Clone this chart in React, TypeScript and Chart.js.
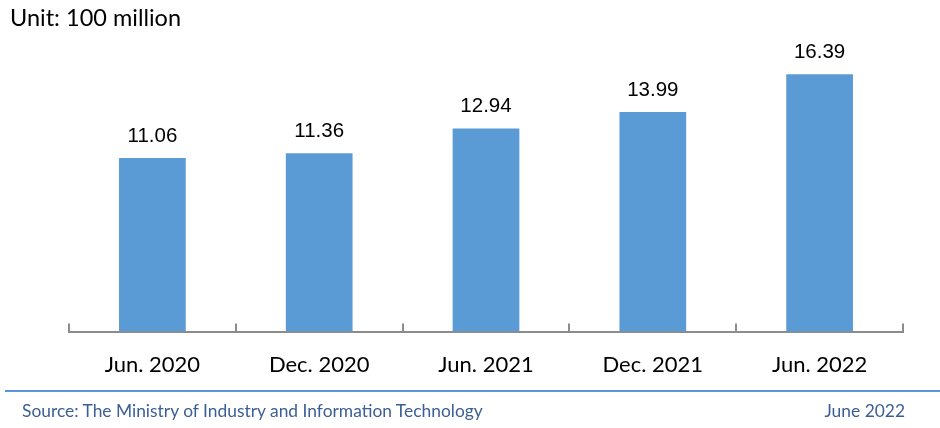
import React, { useEffect, useRef } from "react";
import { Chart, registerables } from "chart.js";

Chart.register(...registerables);

const categories = ["Jun. 2020", "Dec. 2020", "Jun. 2021", "Dec. 2021", "Jun. 2022"];
const values = [11.06, 11.36, 12.94, 13.99, 16.39];
const unitLabel = "Unit: 100 million";
const sourceLabel = "Source: The Ministry of Industry and Information Technology";
const dateLabel = "June 2022";

const BAR_COLOR = "#5b9bd5";
const AXIS_COLOR = "#8c8c8c";

const extrasPlugin = {
  id: "extras",
  afterDatasetsDraw(chart: any) {
    const ctx = chart.ctx;
    const x = chart.scales.x;
    const n = categories.length;
    const w = (x.right - x.left) / n;
    ctx.save();
    ctx.strokeStyle = AXIS_COLOR;
    ctx.lineWidth = 2;
    for (let i = 0; i <= n; i++) {
      const px = Math.round(x.left + i * w);
      ctx.beginPath();
      ctx.moveTo(px, x.top - 8);
      ctx.lineTo(px, x.top);
      ctx.stroke();
    }
    const meta = chart.getDatasetMeta(0);
    ctx.fillStyle = "#000";
    ctx.font = '20.5px "Liberation Sans", Arial, sans-serif';
    ctx.textAlign = "center";
    ctx.textBaseline = "middle";
    meta.data.forEach((bar: any, i: number) => {
      ctx.fillText(values[i].toFixed(2), bar.x, bar.y - 22);
    });
    ctx.restore();
  },
};

export default function App() {
  const ref = useRef<HTMLCanvasElement | null>(null);
  useEffect(() => {
    if (!ref.current) return;
    const chart = new Chart(ref.current, {
      type: "bar",
      data: {
        labels: categories,
        datasets: [
          {
            data: values,
            backgroundColor: BAR_COLOR,
            barPercentage: 0.4,
            categoryPercentage: 1,
          },
        ],
      },
      options: {
        animation: false,
        responsive: false,
        maintainAspectRatio: false,
        layout: { padding: { left: 69, right: 37, top: 49, bottom: 0 } },
        plugins: { legend: { display: false }, tooltip: { enabled: false } },
        scales: {
          y: { display: false, min: 0, max: 18 },
          x: {
            afterFit: (s: any) => {
              s.height = 96.5;
            },
            grid: { display: false, drawTicks: false },
            border: { display: true, color: AXIS_COLOR, width: 2 },
            ticks: {
              padding: 20,
              color: "#000",
              font: { family: "Lato, 'Open Sans', sans-serif", size: 22 },
            },
          },
        },
      },
      plugins: [extrasPlugin],
    });
    return () => chart.destroy();
  }, []);

  return (
    <div style={{ position: "fixed", left: 0, top: 0, width: 940, height: 428, background: "#fff", overflow: "hidden" }}>
      <canvas ref={ref} width={940} height={428} style={{ position: "absolute", left: 0, top: 0 }} />
      <div
        style={{
          position: "absolute",
          left: 10,
          top: 6.3,
          fontFamily: "Lato, sans-serif",
          fontSize: 23.5,
          lineHeight: "23.5px",
          color: "#000",
          whiteSpace: "nowrap",
        }}
      >
        {unitLabel}
      </div>
      <div style={{ position: "absolute", left: 5, top: 390, width: 935, height: 2, background: "#5b95d9" }} />
      <div
        style={{
          position: "absolute",
          left: 22,
          top: 402.3,
          fontFamily: "Lato, sans-serif",
          fontSize: 17.4,
          lineHeight: "17.4px",
          color: "#3b5f94",
          whiteSpace: "nowrap",
        }}
      >
        {sourceLabel}
      </div>
      <div
        style={{
          position: "absolute",
          right: 35,
          top: 402.3,
          fontFamily: "Lato, sans-serif",
          fontSize: 17.4,
          lineHeight: "17.4px",
          color: "#3b5f94",
          whiteSpace: "nowrap",
        }}
      >
        {dateLabel}
      </div>
    </div>
  );
}
